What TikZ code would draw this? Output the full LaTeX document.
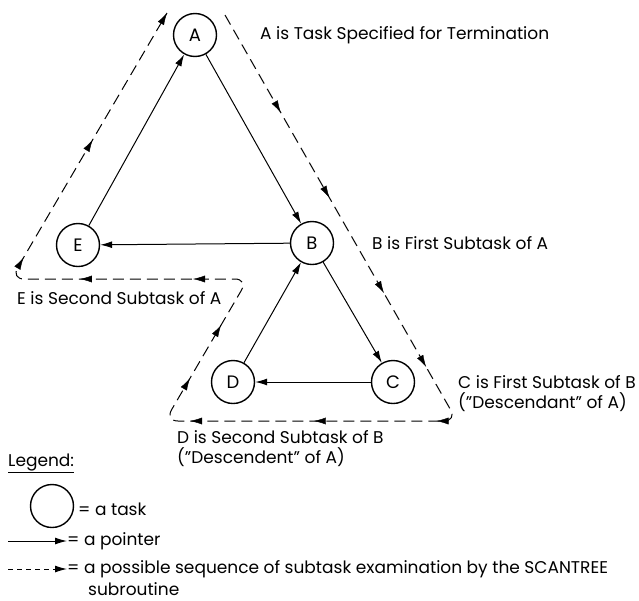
\documentclass[tikz,border=0pt]{standalone}
\usepackage{fontspec}
\setmainfont{Poppins}
\usetikzlibrary{arrows.meta,decorations.markings}
\pgfkeys{/pgf/decoration/tipat/.style={mark=at position #1 with {\arrow{Latex[length=12pt,width=7pt]}}}}
\tikzset{
  task/.style={circle, draw, line width=1.4pt, minimum size=43pt, inner sep=0pt, font=\fontsize{18}{20}\selectfont},
  pointer/.style={line width=1pt, -{Latex[length=12pt,width=7pt]}},
  route/.style={line width=1pt, dash pattern=on 11pt off 6pt, rounded corners=13pt},
  tips/.style={postaction={decorate}, decoration={markings, tipat/.list={#1}}},
  note/.style={anchor=west, inner sep=0pt, font=\fontsize{17}{19}\selectfont},
}
\begin{document}
\begin{tikzpicture}[x=1pt, y=-1pt]
  \useasboundingbox (0,0) rectangle (639,600);
  % tasks
  \node[task] (A) at (195,35) {A};
  \node[task] (B) at (312,243) {B};
  \node[task] (E) at (78,245) {E};
  \node[task] (C) at (393,382) {C};
  \node[task] (D) at (233,382) {D};
  % pointers
  \draw[pointer] (A) -- (B);
  \draw[pointer] (B) -- (E);
  \draw[pointer] (E) -- (A);
  \draw[pointer] (B) -- (C);
  \draw[pointer] (C) -- (D);
  \draw[pointer] (D) -- (B);
  % scan sequence
  \coordinate (r0) at (225,15);
  \coordinate (r1) at (457,421);
  \coordinate (r2) at (165,421);
  \coordinate (r3) at (248,279);
  \coordinate (r4) at (11,279);
  \coordinate (r5) at (167,13);
  \draw[route] (r0) -- (r1) -- (r2) -- (r3) -- (r4) -- (r5);
  \path[tips={0.24,0.45,0.685,0.867}] (r0) -- (r1);
  \path[tips={0.07,0.49,0.914}] (r1) -- (r2);
  \path[tips={0.30,0.676}] (r2) -- (r3);
  \path[tips={0.232,0.709}] (r3) -- (r4);
  \path[tips={0.08,0.523,1}] (r4) -- (r5);
  % labels
  \node[note] (labA) at (260,35) {A is Task Specified for Termination};
  \node[note] (labB) at (372,243) {B is First Subtask of A};
  \node[note] (labE) at (17,298) {E is Second Subtask of A};
  \node[note] (labC) at (458,382) {C is First Subtask of B};
  \node[note] (labCc) at (458,402) {("Descendant" of A)};
  \node[note] (labD) at (177,437) {D is Second Subtask of B};
  \node[note] (labDd) at (177,457) {("Descendent" of A)};
  % legend
  \node[note] (legend) at (8,463) {\underline{Legend:}};
  \node[task] (legtask) at (52,506) {};
  \node[note] (legtasktext) at (78,509) {= a task};
  \coordinate (lp0) at (8,541);
  \coordinate (lp1) at (67,541);
  \draw[pointer] (lp0) -- (lp1);
  \node[note] (legptr) at (67,541) {= a pointer};
  \coordinate (lr0) at (8,569);
  \coordinate (lr1) at (67,569);
  \draw[pointer, dash pattern=on 5pt off 4pt] (lr0) -- (lr1);
  \node[note] (legroute) at (67,569) {= a possible sequence of subtask examination by the SCANTREE};
  \node[note] (legroute2) at (88,589) {subroutine};
\end{tikzpicture}
\end{document}
